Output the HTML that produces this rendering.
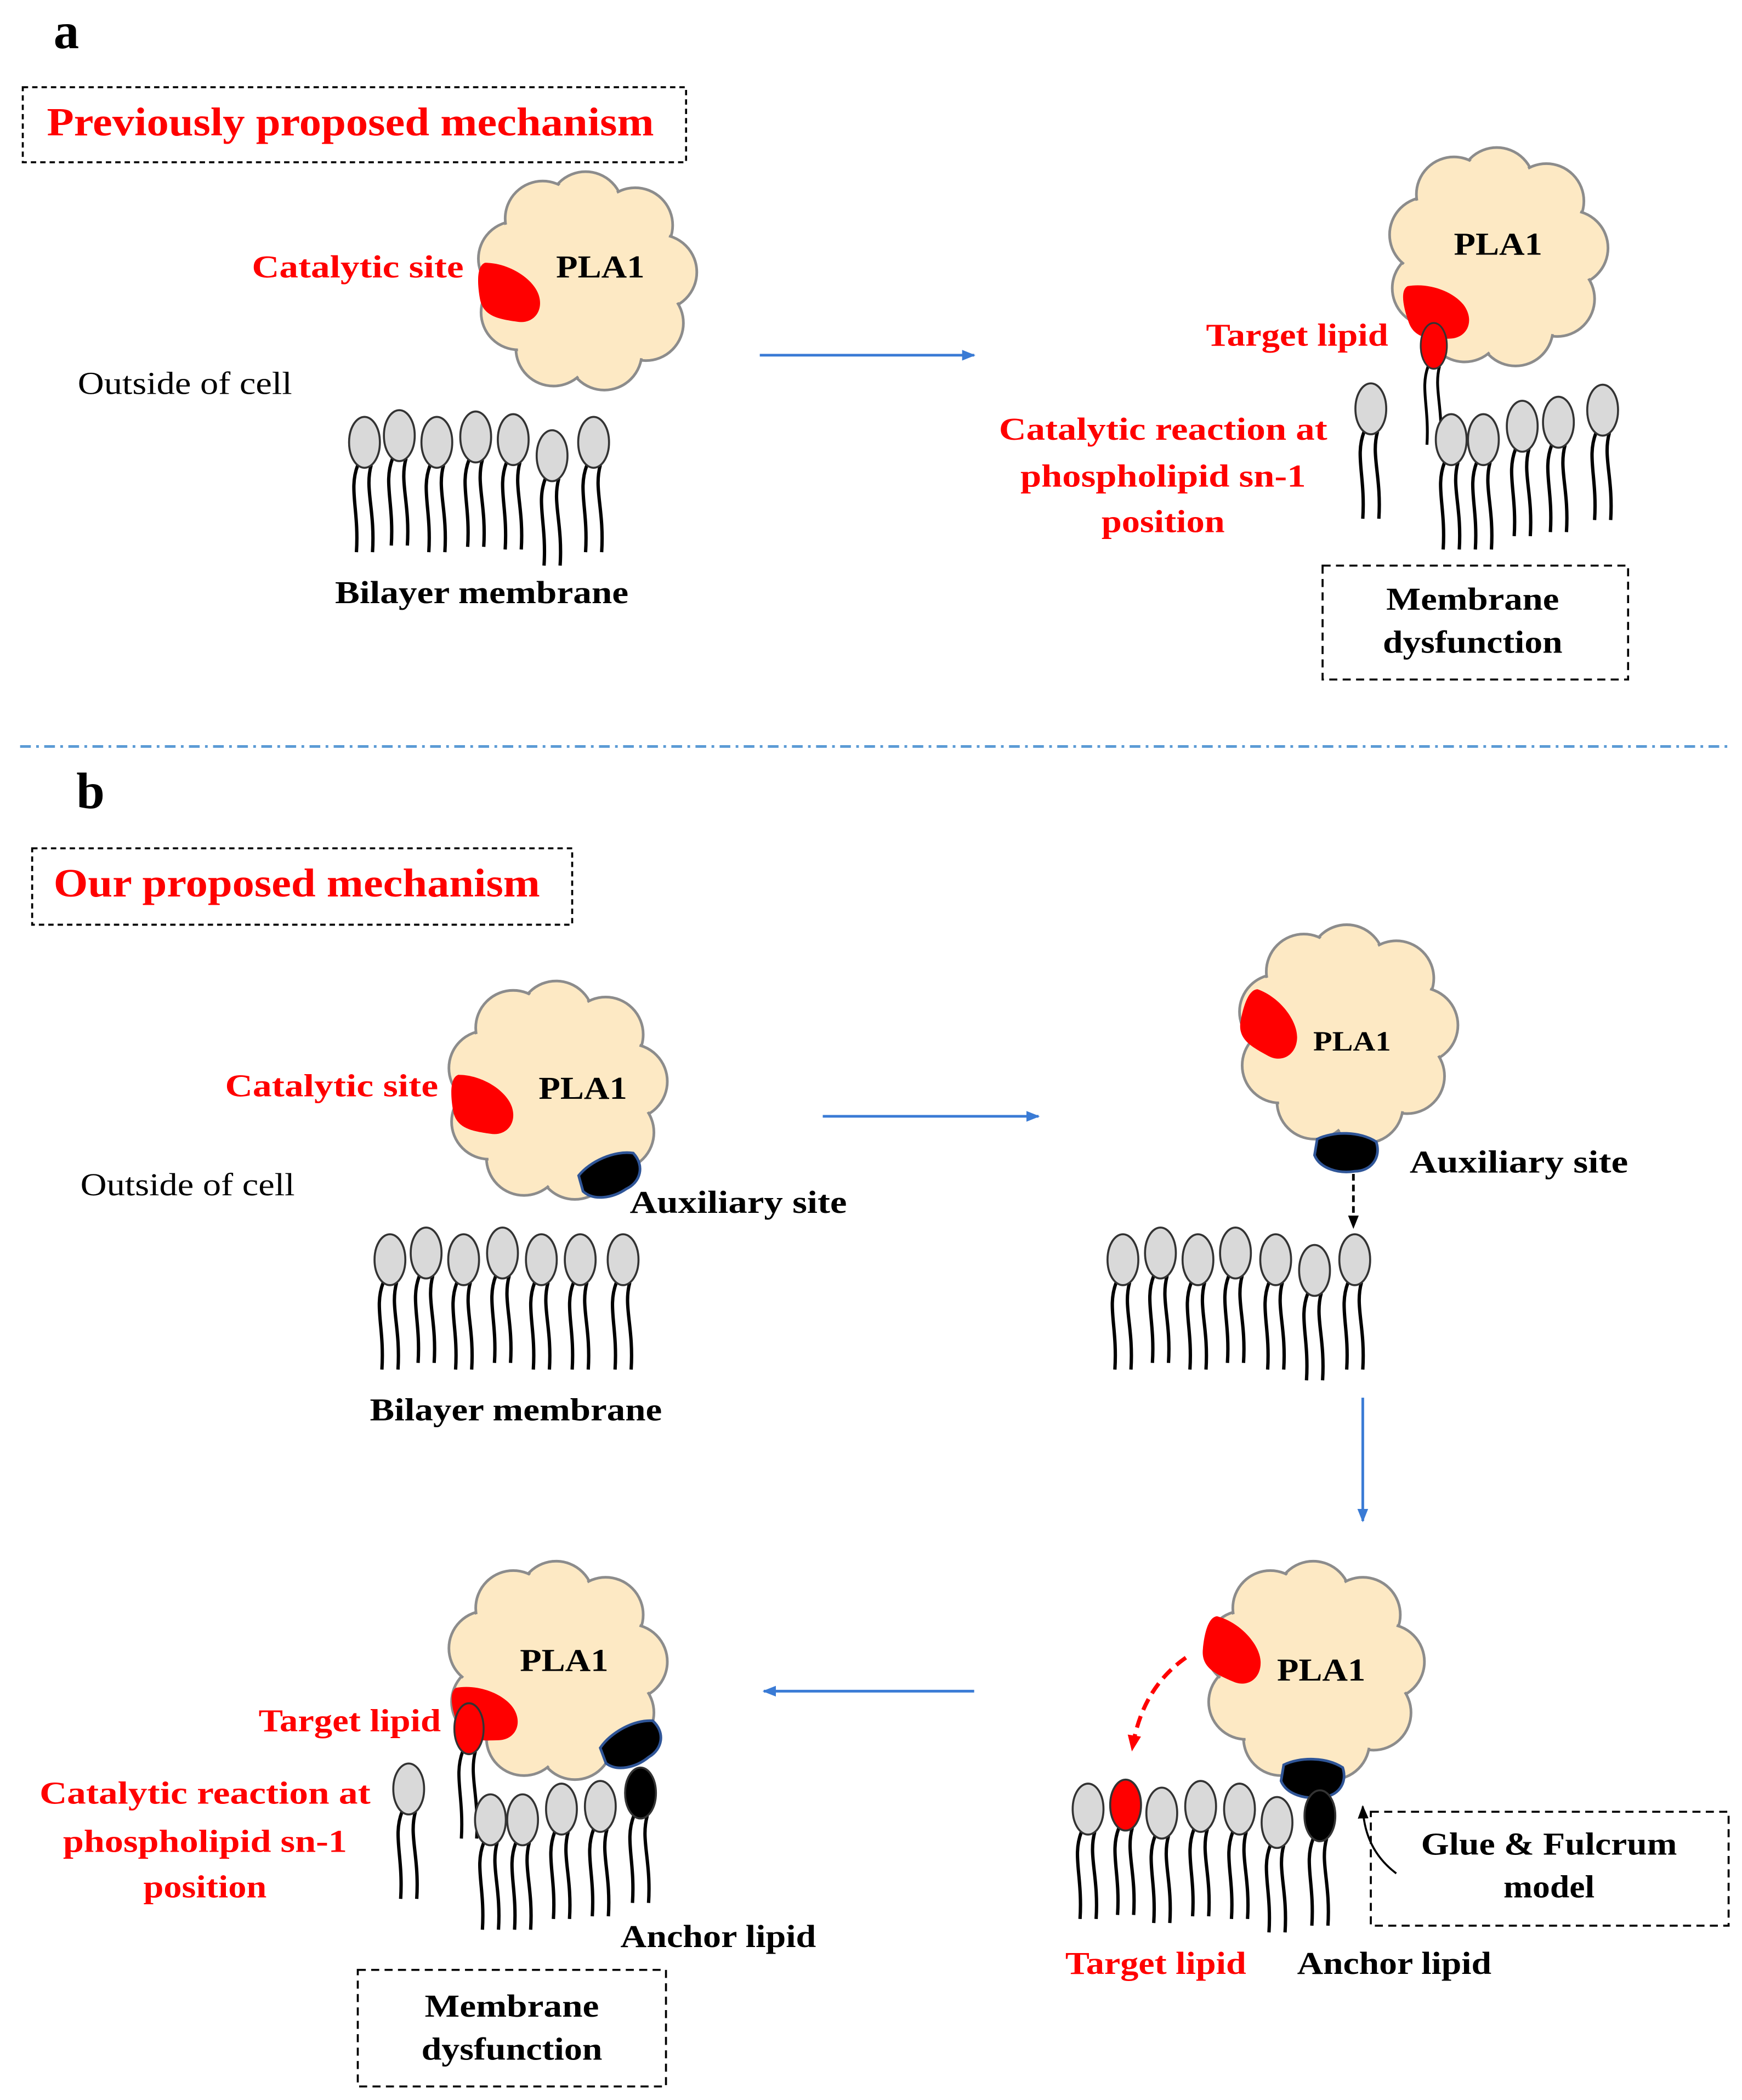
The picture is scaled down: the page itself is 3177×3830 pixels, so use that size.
<!DOCTYPE html>
<html><head><meta charset="utf-8"><style>html,body{margin:0;padding:0;background:#fff}svg{display:block}</style></head>
<body>
<svg width="3177" height="3830" viewBox="0 0 1300 1567" xmlns="http://www.w3.org/2000/svg" font-family="'Liberation Serif',serif">
<defs>
<g id="cloud">
  <g fill="#fde9c4" stroke="#8c8c8c" stroke-width="2">
    <circle cx="0" cy="-52" r="28"/><circle cx="37" cy="-40" r="28"/><circle cx="55" cy="-5" r="28"/>
    <circle cx="45" cy="33" r="28"/><circle cx="14" cy="55" r="28"/><circle cx="-24" cy="52" r="28"/>
    <circle cx="-50" cy="25" r="28"/><circle cx="-52" cy="-15" r="28"/><circle cx="-32" cy="-45" r="28"/>
  </g>
  <g fill="#fde9c4">
    <circle cx="0" cy="-52" r="26.5"/><circle cx="37" cy="-40" r="26.5"/><circle cx="55" cy="-5" r="26.5"/>
    <circle cx="45" cy="33" r="26.5"/><circle cx="14" cy="55" r="26.5"/><circle cx="-24" cy="52" r="26.5"/>
    <circle cx="-50" cy="25" r="26.5"/><circle cx="-52" cy="-15" r="26.5"/><circle cx="-32" cy="-45" r="26.5"/>
    <circle cx="0" cy="0" r="58"/>
  </g>
</g>
<g id="tails" fill="none" stroke="#000" stroke-width="2.5">
  <path d="M-5,17 C-12,35 -4,50 -6,82"/><path d="M5,17 C0,35 8,50 6,82"/>
</g>
<g id="lip"><use href="#tails"/><ellipse cx="0" cy="0" rx="11.5" ry="19" fill="#d9d9d9" stroke="#333" stroke-width="1.5"/></g>
<g id="lipR"><use href="#tails"/><ellipse cx="0" cy="0" rx="11.5" ry="19" fill="#ff0000" stroke="#333" stroke-width="1.5"/></g>
<g id="lipB"><use href="#tails"/><ellipse cx="0" cy="0" rx="11.5" ry="19" fill="#000" stroke="#333" stroke-width="1.5"/></g>
<path id="red" d="M-18,-22 C0,-22 18,-10 22,2 C26,14 18,24 6,22 C-8,20 -20,18 -22,4 C-24,-8 -24,-20 -18,-22Z" fill="#ff0000"/>
<path id="blk" d="M-22,-10 C-10,-16 10,-16 22,-8 C26,4 18,14 6,14 C-6,16 -20,12 -24,2 Z" fill="#000" stroke="#2f5597" stroke-width="2"/>
<marker id="ab" markerWidth="10" markerHeight="10" refX="9" refY="5" orient="auto" markerUnits="userSpaceOnUse"><path d="M0,1 L10,5 L0,9Z" fill="#3a7bd5"/></marker>
<marker id="ak" markerWidth="10" markerHeight="10" refX="9" refY="5" orient="auto" markerUnits="userSpaceOnUse"><path d="M0,1 L10,5 L0,9Z" fill="#000"/></marker>
<marker id="ar" markerWidth="12" markerHeight="12" refX="10" refY="6" orient="auto" markerUnits="userSpaceOnUse"><path d="M0,1 L12,6 L0,11Z" fill="#ff0000"/></marker>
</defs>

<g font-weight="bold" font-size="24">
<!-- panel a -->
<text x="40" y="36" font-size="38">a</text>
<rect x="17" y="65" width="495" height="56" fill="none" stroke="#000" stroke-width="1.5" stroke-dasharray="4,3"/>
<text x="35" y="101" font-size="30" fill="#ff0000" textLength="453" lengthAdjust="spacingAndGlyphs">Previously proposed mechanism</text>

<use href="#cloud" transform="translate(437,208)"/>
<use href="#red" transform="translate(380,218)"/>
<text x="188" y="207" fill="#ff0000" textLength="158" lengthAdjust="spacingAndGlyphs">Catalytic site</text>
<text x="415" y="207" fill="#000" textLength="66" lengthAdjust="spacingAndGlyphs">PLA1</text>
<text x="58" y="294" font-weight="normal" textLength="160" lengthAdjust="spacingAndGlyphs">Outside of cell</text>
<use href="#lip" x="272" y="330"/><use href="#lip" x="298" y="325"/><use href="#lip" x="326" y="330"/><use href="#lip" x="355" y="326"/><use href="#lip" x="383" y="328"/><use href="#lip" x="412" y="340"/><use href="#lip" x="443" y="330"/>
<text x="250" y="450" textLength="219" lengthAdjust="spacingAndGlyphs">Bilayer membrane</text>

<line x1="567" y1="265" x2="727" y2="265" stroke="#3a7bd5" stroke-width="2" marker-end="url(#ab)"/>

<use href="#cloud" transform="translate(1117,190)"/>
<use href="#red" transform="translate(1072,232) rotate(-10)"/>
<text x="1085" y="190" textLength="66" lengthAdjust="spacingAndGlyphs">PLA1</text>
<use href="#lipR" transform="translate(1070,258) scale(0.85,0.9)"/>
<text x="900" y="258" fill="#ff0000" textLength="136" lengthAdjust="spacingAndGlyphs">Target lipid</text>
<use href="#lip" x="1023" y="305"/><use href="#lip" x="1083" y="328"/><use href="#lip" x="1107" y="328"/><use href="#lip" x="1136" y="318"/><use href="#lip" x="1163" y="315"/><use href="#lip" x="1196" y="306"/>
<g fill="#ff0000" text-anchor="middle"><text x="868" y="328" textLength="245" lengthAdjust="spacingAndGlyphs">Catalytic reaction at</text><text x="868" y="363" textLength="213" lengthAdjust="spacingAndGlyphs">phospholipid sn-1</text><text x="868" y="397" textLength="92" lengthAdjust="spacingAndGlyphs">position</text></g>
<rect x="987" y="422" width="228" height="85" fill="none" stroke="#000" stroke-width="1.5" stroke-dasharray="6,4"/>
<g text-anchor="middle"><text x="1099" y="455" textLength="129" lengthAdjust="spacingAndGlyphs">Membrane</text><text x="1099" y="487" textLength="134" lengthAdjust="spacingAndGlyphs">dysfunction</text></g>

<line x1="15" y1="557" x2="1290" y2="557" stroke="#5b9bd5" stroke-width="2" stroke-dasharray="8,4,2,4"/>

<!-- panel b -->
<text x="57" y="603" font-size="38">b</text>
<rect x="24" y="633" width="403" height="57" fill="none" stroke="#000" stroke-width="1.5" stroke-dasharray="4,3"/>
<text x="40" y="669" font-size="30" fill="#ff0000" textLength="363" lengthAdjust="spacingAndGlyphs">Our proposed mechanism</text>

<use href="#cloud" transform="translate(415,812)"/>
<use href="#red" transform="translate(360,824)"/>
<use href="#blk" transform="translate(456,877) rotate(-25)"/>
<text x="168" y="818" fill="#ff0000" textLength="159" lengthAdjust="spacingAndGlyphs">Catalytic site</text>
<text x="402" y="820" textLength="66" lengthAdjust="spacingAndGlyphs">PLA1</text>
<text x="470" y="905" textLength="162" lengthAdjust="spacingAndGlyphs">Auxiliary site</text>
<text x="60" y="892" font-weight="normal" textLength="160" lengthAdjust="spacingAndGlyphs">Outside of cell</text>
<use href="#lip" x="291" y="940"/><use href="#lip" x="318" y="935"/><use href="#lip" x="346" y="940"/><use href="#lip" x="375" y="935"/><use href="#lip" x="404" y="940"/><use href="#lip" x="433" y="940"/><use href="#lip" x="465" y="940"/>
<text x="276" y="1060" textLength="218" lengthAdjust="spacingAndGlyphs">Bilayer membrane</text>

<line x1="614" y1="833" x2="775" y2="833" stroke="#3a7bd5" stroke-width="2" marker-end="url(#ab)"/>

<use href="#cloud" transform="translate(1005,770)"/>
<use href="#red" transform="translate(948,765) rotate(20)"/>
<use href="#blk" transform="translate(1005,860)"/>
<text x="980" y="784" font-size="21" textLength="58" lengthAdjust="spacingAndGlyphs">PLA1</text>
<text x="1052" y="875" textLength="163" lengthAdjust="spacingAndGlyphs">Auxiliary site</text>
<line x1="1010" y1="876" x2="1010" y2="916" stroke="#000" stroke-width="2" stroke-dasharray="5,3" marker-end="url(#ak)"/>
<use href="#lip" x="838" y="940"/><use href="#lip" x="866" y="935"/><use href="#lip" x="894" y="940"/><use href="#lip" x="922" y="935"/><use href="#lip" x="952" y="940"/><use href="#lip" x="981" y="948"/><use href="#lip" x="1011" y="940"/>

<line x1="1017" y1="1043" x2="1017" y2="1135" stroke="#3a7bd5" stroke-width="2" marker-end="url(#ab)"/>

<use href="#cloud" transform="translate(980,1245)"/>
<use href="#red" transform="translate(920,1232) rotate(15)"/>
<use href="#blk" transform="translate(980,1327)"/>
<text x="953" y="1254" textLength="66" lengthAdjust="spacingAndGlyphs">PLA1</text>
<path d="M885,1237 Q852,1260 845,1305" fill="none" stroke="#ff0000" stroke-width="3" stroke-dasharray="9,5" marker-end="url(#ar)"/>
<use href="#lip" x="812" y="1350"/><use href="#lipR" x="840" y="1347"/><use href="#lip" x="867" y="1353"/><use href="#lip" x="896" y="1348"/><use href="#lip" x="925" y="1350"/><use href="#lip" x="953" y="1360"/><use href="#lipB" x="985" y="1355"/>
<text x="795" y="1473" fill="#ff0000" textLength="135" lengthAdjust="spacingAndGlyphs">Target lipid</text>
<text x="968" y="1473" textLength="145" lengthAdjust="spacingAndGlyphs">Anchor lipid</text>
<rect x="1023" y="1352" width="267" height="85" fill="none" stroke="#000" stroke-width="1.5" stroke-dasharray="6,4"/>
<g text-anchor="middle"><text x="1156" y="1384" textLength="191" lengthAdjust="spacingAndGlyphs">Glue &amp; Fulcrum</text><text x="1156" y="1416" textLength="68" lengthAdjust="spacingAndGlyphs">model</text></g>
<path d="M1042,1398 Q1018,1380 1017,1348" fill="none" stroke="#000" stroke-width="1.5" marker-end="url(#ak)"/>

<line x1="727" y1="1262" x2="570" y2="1262" stroke="#3a7bd5" stroke-width="2" marker-end="url(#ab)"/>

<use href="#cloud" transform="translate(415,1245)"/>
<use href="#red" transform="translate(362,1278) rotate(-10)"/>
<use href="#blk" transform="translate(472,1302) rotate(-30)"/>
<text x="388" y="1247" textLength="66" lengthAdjust="spacingAndGlyphs">PLA1</text>
<use href="#lipR" transform="translate(350,1290) scale(0.95,1)"/>
<use href="#lipB" x="478" y="1338"/>
<text x="193" y="1292" fill="#ff0000" textLength="136" lengthAdjust="spacingAndGlyphs">Target lipid</text>
<g fill="#ff0000" text-anchor="middle"><text x="153" y="1346" textLength="247" lengthAdjust="spacingAndGlyphs">Catalytic reaction at</text><text x="153" y="1382" textLength="212" lengthAdjust="spacingAndGlyphs">phospholipid sn-1</text><text x="153" y="1416" textLength="92" lengthAdjust="spacingAndGlyphs">position</text></g>
<use href="#lip" x="305" y="1335"/><use href="#lip" x="366" y="1358"/><use href="#lip" x="390" y="1358"/><use href="#lip" x="419" y="1350"/><use href="#lip" x="448" y="1348"/>
<text x="463" y="1453" textLength="146" lengthAdjust="spacingAndGlyphs">Anchor lipid</text>
<rect x="267" y="1470" width="230" height="87" fill="none" stroke="#000" stroke-width="1.5" stroke-dasharray="6,4"/>
<g text-anchor="middle"><text x="382" y="1505" textLength="130" lengthAdjust="spacingAndGlyphs">Membrane</text><text x="382" y="1537" textLength="135" lengthAdjust="spacingAndGlyphs">dysfunction</text></g>
</g>
</svg>
</body></html>
